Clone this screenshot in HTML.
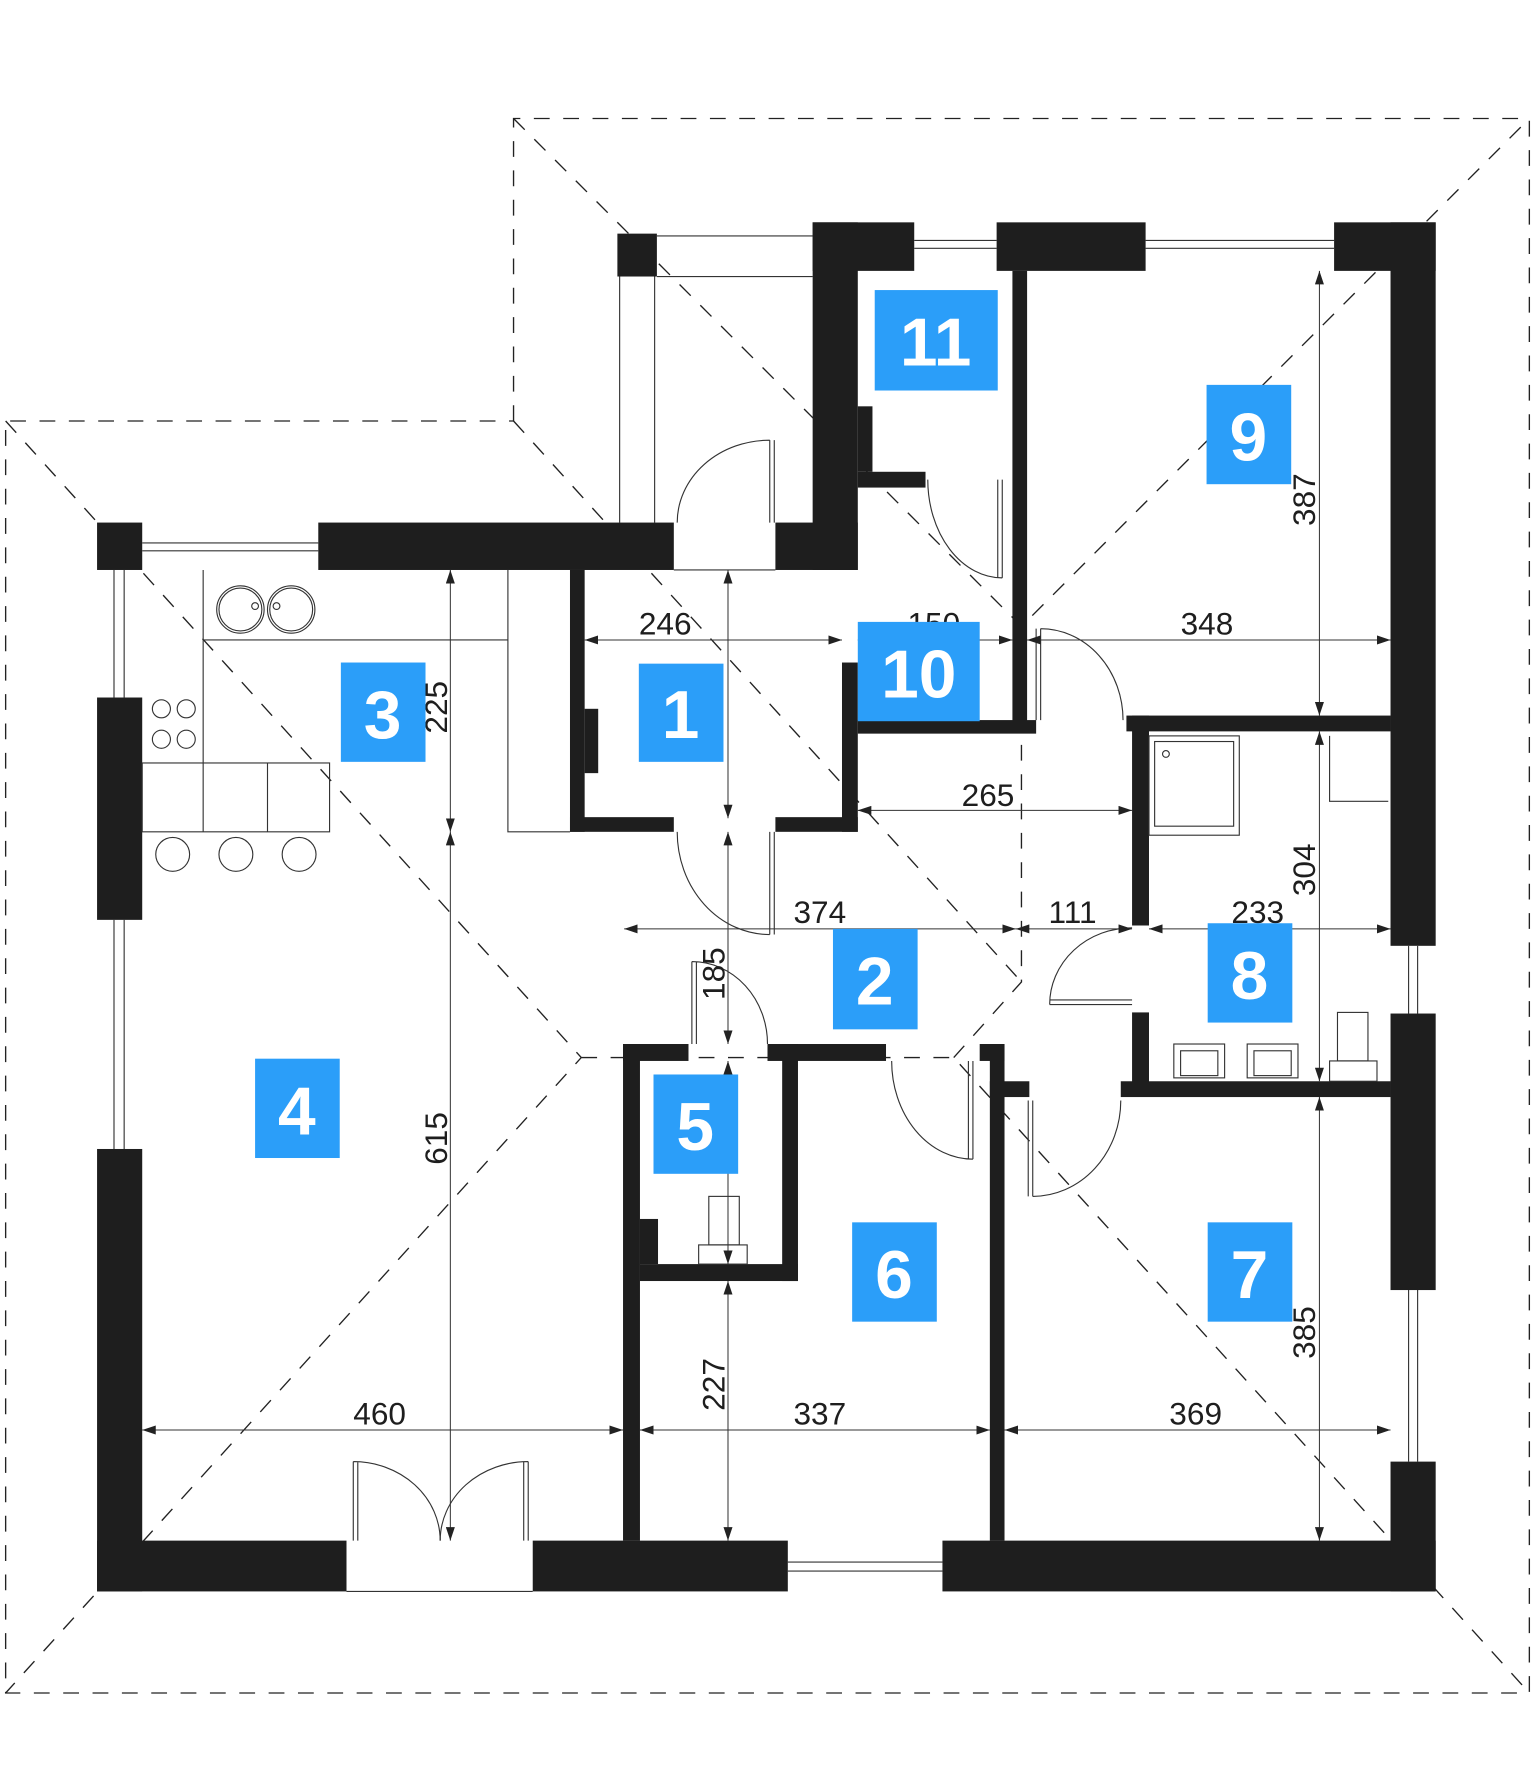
<!DOCTYPE html>
<html><head><meta charset="utf-8"><style>
html,body{margin:0;padding:0;background:#fff;width:1535px;height:1772px;overflow:hidden}
svg{display:block}
.w{fill:#1e1e1e}
.d{stroke:#222;stroke-width:1.2;fill:none;stroke-dasharray:14 12}
.t{stroke:#333;stroke-width:1;fill:none}
.dim line{stroke:#333;stroke-width:0.9;marker-start:url(#a);marker-end:url(#a)}
.n{font-family:"Liberation Sans",sans-serif;font-size:28px;fill:#1e1e1e}
.b{fill:#2b9ef9}
.l{font-family:"Liberation Sans",sans-serif;font-weight:bold;font-size:60px;fill:#fff;text-anchor:middle}
</style></head><body>
<svg width="1535" height="1772" viewBox="0 0 1360 1570" preserveAspectRatio="none">
<defs>
<marker id="a" viewBox="0 0 12 8" refX="12" refY="4" markerWidth="12" markerHeight="8" markerUnits="userSpaceOnUse" orient="auto-start-reverse"><path d="M0,0 L12,4 L0,8 z" fill="#222"/></marker>
</defs>
<rect width="1360" height="1570" fill="#fff"/>
<!-- roof -->
<path class="d" d="M455,373 L455,105 L1355,105 L1355,1500 L5,1500 L5,373 L455,373"/>
<path class="d" d="M5,373 L515,937 L5,1500 M515,937 L845,937 L1355,1500 M845,937 L905,870 L905,555 M455,105 L905,555 L1355,105 M455,373 L905,870"/>
<!-- porch -->
<path class="t" d="M582,209 L720,209 M582,245 L720,245 M549,245 L549,463 M580,245 L580,463 M597,505 L687,505"/>
<rect class="w" x="547" y="207" width="35" height="38"/>
<!-- windows -->
<path class="t" d="M126,481 L282,481 M126,488 L282,488 M810,213 L883,213 M810,220 L883,220 M1015,213 L1182,213 M1015,220 L1182,220 M101,505 L101,618 M110,505 L110,618 M101,815 L101,1018 M110,815 L110,1018 M1248,838 L1248,898 M1256,838 L1256,898 M1248,1143 L1248,1295 M1256,1143 L1256,1295 M698,1384 L835,1384 M698,1392 L835,1392 M307,1410 L472,1410"/>
<!-- outer walls -->
<g class="w">
<rect x="86" y="463" width="40" height="42"/>
<rect x="282" y="463" width="315" height="42"/>
<rect x="687" y="463" width="73" height="42"/>
<rect x="720" y="197" width="40" height="308"/>
<rect x="720" y="197" width="90" height="43"/>
<rect x="883" y="197" width="132" height="43"/>
<rect x="1182" y="197" width="90" height="43"/>
<rect x="1232" y="197" width="40" height="641"/>
<rect x="1232" y="898" width="40" height="245"/>
<rect x="1232" y="1295" width="40" height="115"/>
<rect x="86" y="1365" width="221" height="45"/>
<rect x="472" y="1365" width="226" height="45"/>
<rect x="835" y="1365" width="437" height="45"/>
<rect x="86" y="618" width="40" height="197"/>
<rect x="86" y="1018" width="40" height="392"/>
<rect x="505" y="505" width="13" height="232"/>
<rect x="505" y="724" width="92" height="13"/>
<rect x="687" y="724" width="73" height="13"/>
<rect x="746" y="587" width="14" height="150"/>
<rect x="518" y="628" width="12" height="57"/>
<rect x="760" y="360" width="13" height="58"/>
<rect x="760" y="418" width="60" height="14"/>
<rect x="897" y="240" width="13" height="408"/>
<rect x="760" y="638" width="158" height="12"/>
<rect x="998" y="634" width="234" height="14"/>
<rect x="1003" y="634" width="15" height="186"/>
<rect x="1003" y="897" width="15" height="63"/>
<rect x="993" y="958" width="239" height="14"/>
<rect x="552" y="925" width="15" height="440"/>
<rect x="552" y="925" width="58" height="15"/>
<rect x="680" y="925" width="105" height="15"/>
<rect x="693" y="925" width="14" height="210"/>
<rect x="567" y="1120" width="140" height="15"/>
<rect x="567" y="1080" width="16" height="40"/>
<rect x="877" y="925" width="13" height="440"/>
<rect x="868" y="925" width="22" height="15"/>
<rect x="877" y="958" width="35" height="14"/>
</g>
<!-- doors -->
<g class="t">
<path d="M682,390 L682,463 M686,390 L686,463 M682,390 A82,73 0 0 0 600,463"/>
<path d="M888,425 L888,512 M884,425 L884,512 M822,425 A66,87 0 0 0 888,512"/>
<path d="M682,737 L682,828 M686,737 L686,828 M600,737 A82,91 0 0 0 682,828"/>
<path d="M922,557 L922,638 M918,557 L918,638 M922,557 A73,81 0 0 1 995,638"/>
<path d="M930,890 L1003,890 M930,886 L1003,886 M930,890 A73,68 0 0 1 1003,822"/>
<path d="M915,975 L915,1060 M911,975 L911,1060 M915,1060 A78,85 0 0 0 993,975"/>
<path d="M862,940 L862,1027 M858,940 L858,1027 M790,940 A72,87 0 0 0 862,1027"/>
<path d="M613,852 L613,925 M617,852 L617,925 M613,852 A67,73 0 0 1 680,925"/>
<path d="M313,1295 L313,1365 M317,1295 L317,1365 M313,1295 A77,70 0 0 1 390,1365"/>
<path d="M468,1295 L468,1365 M464,1295 L464,1365 M468,1295 A78,70 0 0 0 390,1365"/>
</g>
<!-- kitchen & fixtures -->
<g class="t">
<path d="M180,567 L450,567 M180,505 L180,676 M450,505 L450,737 L505,737"/>
<rect x="126" y="676" width="166" height="61"/>
<path d="M180,676 L180,737 M237,676 L237,737"/>
<circle cx="153" cy="757" r="15"/><circle cx="209" cy="757" r="15"/><circle cx="265" cy="757" r="15"/>
<circle cx="213" cy="540" r="21"/><circle cx="213" cy="540" r="19"/><circle cx="258" cy="540" r="21"/><circle cx="258" cy="540" r="19"/>
<circle cx="226" cy="537" r="3"/><circle cx="245" cy="537" r="3"/>
<circle cx="143" cy="628" r="8"/><circle cx="165" cy="628" r="8"/><circle cx="143" cy="655" r="8"/><circle cx="165" cy="655" r="8"/>
<rect x="1018" y="652" width="80" height="88"/><rect x="1023" y="657" width="70" height="75"/>
<circle cx="1033" cy="668" r="3"/>
<rect x="1040" y="925" width="45" height="30"/><rect x="1046" y="931" width="33" height="22"/>
<rect x="1105" y="925" width="45" height="30"/><rect x="1111" y="931" width="33" height="22"/>
<rect x="1185" y="897" width="27" height="43"/><rect x="1178" y="940" width="42" height="18"/>
<path d="M1178,652 L1178,710 L1230,710"/>
<rect x="628" y="1060" width="27" height="43"/><rect x="619" y="1103" width="43" height="17"/>
</g>
<!-- dimensions -->
<g class="dim">
<line x1="518" y1="567" x2="746" y2="567"/>
<line x1="760" y1="567" x2="897" y2="567"/>
<line x1="910" y1="567" x2="1232" y2="567"/>
<line x1="760" y1="718" x2="1003" y2="718"/>
<line x1="553" y1="823" x2="900" y2="823"/>
<line x1="900" y1="823" x2="1003" y2="823"/>
<line x1="1018" y1="823" x2="1232" y2="823"/>
<line x1="126" y1="1267" x2="552" y2="1267"/>
<line x1="567" y1="1267" x2="877" y2="1267"/>
<line x1="890" y1="1267" x2="1232" y2="1267"/>
<line x1="399" y1="505" x2="399" y2="737"/>
<line x1="399" y1="737" x2="399" y2="1365"/>
<line x1="645" y1="505" x2="645" y2="725"/>
<line x1="645" y1="737" x2="645" y2="925"/>
<line x1="645" y1="940" x2="645" y2="1120"/>
<line x1="645" y1="1135" x2="645" y2="1365"/>
<line x1="1169" y1="240" x2="1169" y2="634"/>
<line x1="1169" y1="648" x2="1169" y2="958"/>
<line x1="1169" y1="972" x2="1169" y2="1365"/>
</g>
<g class="n">
<text x="566" y="562">246</text>
<text x="804" y="562">150</text>
<text x="1046" y="562">348</text>
<text x="852" y="714">265</text>
<text x="703" y="818">374</text>
<text x="929" y="818">111</text>
<text x="1091" y="818">233</text>
<text x="313" y="1262">460</text>
<text x="703" y="1262">337</text>
<text x="1036" y="1262">369</text>
<text transform="translate(396,650) rotate(-90)">225</text>
<text transform="translate(396,1032) rotate(-90)">615</text>
<text transform="translate(642,886) rotate(-90)">185</text>
<text transform="translate(642,1250) rotate(-90)">227</text>
<text transform="translate(1165,466) rotate(-90)">387</text>
<text transform="translate(1165,794) rotate(-90)">304</text>
<text transform="translate(1165,1204) rotate(-90)">385</text>
</g>
<!-- labels -->
<g>
<rect class="b" x="566" y="588" width="75" height="87"/><text class="l" x="603" y="654">1</text>
<rect class="b" x="738" y="823" width="75" height="89"/><text class="l" x="775" y="890">2</text>
<rect class="b" x="302" y="587" width="75" height="88"/><text class="l" x="339" y="654">3</text>
<rect class="b" x="226" y="938" width="75" height="88"/><text class="l" x="263" y="1005">4</text>
<rect class="b" x="579" y="952" width="75" height="88"/><text class="l" x="616" y="1019">5</text>
<rect class="b" x="755" y="1083" width="75" height="88"/><text class="l" x="792" y="1150">6</text>
<rect class="b" x="1070" y="1083" width="75" height="88"/><text class="l" x="1107" y="1150">7</text>
<rect class="b" x="1070" y="818" width="75" height="88"/><text class="l" x="1107" y="885">8</text>
<rect class="b" x="1069" y="341" width="75" height="88"/><text class="l" x="1106" y="408">9</text>
<rect class="b" x="760" y="551" width="108" height="88"/><text class="l" x="814" y="618">10</text>
<rect class="b" x="775" y="257" width="109" height="89"/><text class="l" x="829" y="324">11</text>
</g>
</svg>
</body></html>
